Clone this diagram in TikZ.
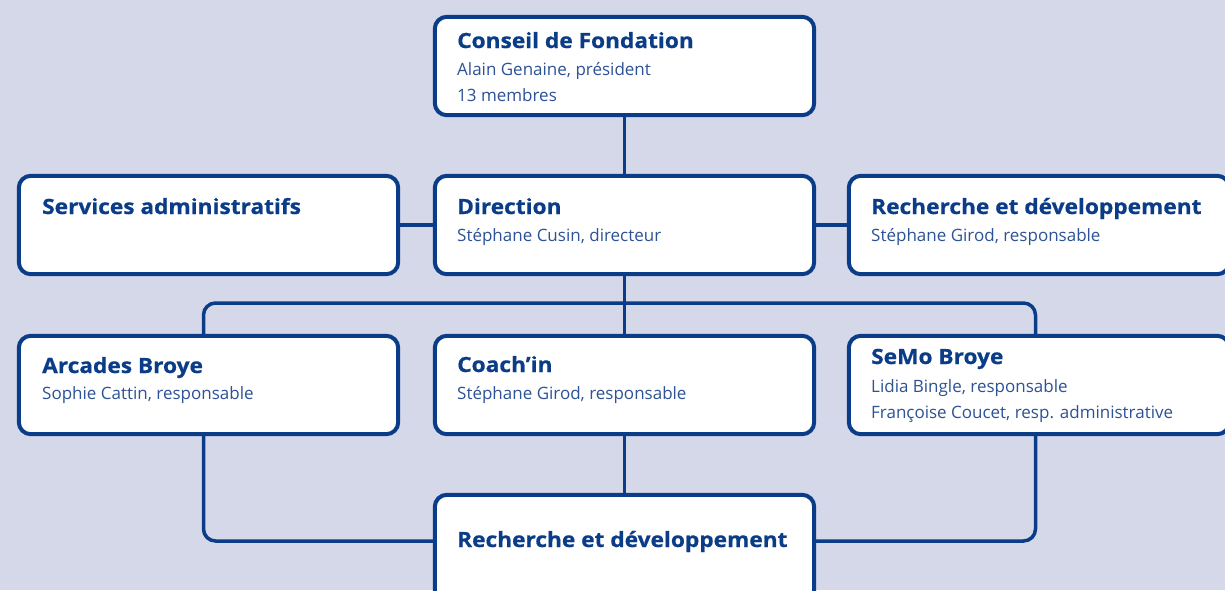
\documentclass[tikz,border=0pt]{standalone}
\usepackage{fontspec}
\setmainfont{Open Sans}
\newfontfamily\ttlfont{Open Sans}[FakeStretch=1.08,BoldFeatures={FakeBold=0.6}]
\definecolor{navy}{RGB}{10,60,135}
\definecolor{subblue}{RGB}{45,82,150}
\definecolor{bgc}{RGB}{213,216,233}
\begin{document}
\begin{tikzpicture}[x=1pt,y=-1pt,
  box/.style={draw=navy,line width=4pt,fill=white,rounded corners=12pt},
  conn/.style={draw=navy,line width=3.5pt},
  ttl/.style={anchor=base west,inner sep=0pt,text=navy,font=\ttlfont\bfseries\fontsize{21}{24}\selectfont},
  sub/.style={anchor=base west,inner sep=0pt,text=subblue,font=\fontsize{17}{20}\selectfont}]
\fill[bgc] (0,0) rectangle (1225,590);
\useasboundingbox (0,0) rectangle (1225,590);
% boxes as nodes (geometry)
\node[inner sep=0pt,minimum width=379pt,minimum height=98pt] (conseil) at (624.5,66) {};
\node[inner sep=0pt,minimum width=379pt,minimum height=98pt] (services) at (208.5,225) {};
\node[inner sep=0pt,minimum width=379pt,minimum height=98pt] (direction) at (624.5,225) {};
\node[inner sep=0pt,minimum width=380pt,minimum height=98pt] (rd) at (1039,225) {};
\node[inner sep=0pt,minimum width=379pt,minimum height=98pt] (arcades) at (208.5,385) {};
\node[inner sep=0pt,minimum width=379pt,minimum height=98pt] (coach) at (624.5,385) {};
\node[inner sep=0pt,minimum width=380pt,minimum height=98pt] (semo) at (1039,385) {};
\node[inner sep=0pt,minimum width=379pt,minimum height=110pt] (bottom) at (624.5,550) {};
\coordinate (bl) at (203.5,303);
\coordinate (br) at (1035.5,303);
\coordinate (yb) at (624.5,541);
% connectors
\draw[conn] (conseil.south) -- (direction.north);
\draw[conn] (services.east) -- (direction.west);
\draw[conn] (direction.east) -- (rd.west);
\draw[conn] (direction.south) -- (coach.north);
\draw[conn,rounded corners=12pt] (arcades.north -| bl) -- (bl) -- (br) -- (semo.north -| br);
\draw[conn,rounded corners=12pt] (arcades.south -| bl) |- (bottom.west |- yb);
\draw[conn,rounded corners=12pt] (semo.south -| br) |- (bottom.east |- yb);
\draw[conn] (coach.south) -- (bottom.north);
% box outlines
\foreach \n in {conseil,services,direction,rd,arcades,coach,semo,bottom}
  \draw[box] (\n.north west) rectangle (\n.south east);
% texts
\node[ttl] (t1) at (457,48) {Conseil de Fondation};
\node[sub] (s1a) at (457,75) {Alain Genaine, président};
\node[sub] (s1b) at (457,101) {13 membres};
\node[ttl] (t2) at (42,214) {Services administratifs};
\node[ttl] (t3) at (457,214) {Direction};
\node[sub] (s3) at (457,241) {Stéphane Cusin, directeur};
\node[ttl] (t4) at (871,214) {Recherche et développement};
\node[sub] (s4) at (871,241) {Stéphane Girod, responsable};
\node[ttl] (t5) at (42,373) {Arcades Broye};
\node[sub] (s5) at (42,399) {Sophie Cattin, responsable};
\node[ttl] (t6) at (457,372) {Coach’in};
\node[sub] (s6) at (457,399) {Stéphane Girod, responsable};
\node[ttl] (t7) at (871,364) {SeMo Broye};
\node[sub] (s7a) at (871,392) {Lidia Bingle, responsable};
\node[sub] (s7b) at (871,418) {Françoise Coucet, resp. administrative};
\node[ttl] (t8) at (457,547) {Recherche et développement};
\end{tikzpicture}
\end{document}
